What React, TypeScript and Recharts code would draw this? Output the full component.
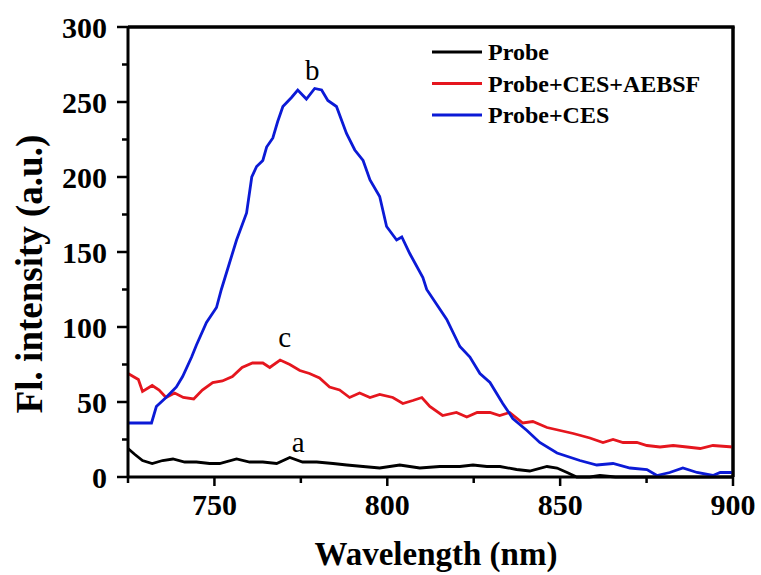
import React from 'react';
import { LineChart, Line, XAxis, YAxis, ReferenceDot } from 'recharts';

const FONT = "'Liberation Serif', 'Times New Roman', serif";

// Probe (a)
const probeWavelength = [725, 727, 729.2, 732, 735, 738, 741.4, 744.8, 748.6, 751.5, 756.4, 760.2, 764, 768, 771.8, 775.5, 779.6, 784.3, 788.3, 793, 797.8, 803.6, 809.4, 815.2, 821, 824.8, 828.8, 832.6, 837.4, 841.2, 846.2, 849.1, 852, 854.8, 858.6, 861.5, 866, 900];
const probeIntensity = [19, 15, 11, 9, 11, 12, 10, 10, 9, 9, 12, 10, 10, 9, 13, 10, 10, 9, 8, 7, 6, 8, 6, 7, 7, 8, 7, 7, 5, 4, 7, 6, 3, 0, 0, 1, 0, 0];

// Probe+CES+AEBSF (c)
const aebsfWavelength = [725, 728, 729.2, 732, 734, 736, 738.5, 741, 744, 746.5, 749.5, 752.3, 755.2, 758, 761, 764, 766, 769, 771.8, 774.7, 777.5, 780.4, 783.3, 786.2, 789.1, 792, 795, 797.8, 801.6, 804.5, 807.4, 810, 812.3, 816, 820, 823, 826, 829.7, 832.5, 835.4, 839.2, 842.1, 846.2, 850, 853.8, 858.6, 862.4, 865.3, 868.2, 872.2, 875.1, 878.9, 882.7, 886.7, 890.5, 894.2, 900];
const aebsfIntensity = [69, 65, 57, 61, 58, 53, 56, 53, 52, 58, 63, 64, 67, 73, 76, 76, 73, 78, 75, 71, 69, 66, 60, 58, 53, 56, 53, 55, 53, 49, 51, 53, 47, 41, 43, 40, 43, 43, 41, 43, 36, 37, 33, 31, 29, 26, 23, 25, 23, 23, 21, 20, 21, 20, 19, 21, 20];

// Probe+CES (b)
const cesWavelength = [725, 728, 731.8, 733.2, 736, 739, 740.8, 743.4, 744.8, 747.7, 750.6, 752, 754.4, 756.4, 759.3, 760.8, 762.2, 764, 765.1, 766.9, 768.3, 769.8, 772.3, 774.1, 776.6, 779, 781, 782.8, 785.3, 788.2, 790.6, 793, 795, 797.8, 799.8, 802.7, 804.2, 806.5, 810.3, 811.4, 817.2, 821, 823.9, 826.8, 829.7, 833.4, 836.3, 840.4, 844.1, 849.1, 855.7, 860.6, 865.3, 870.2, 875.1, 878, 881.7, 885.5, 889.6, 894.2, 896.3, 900];
const cesIntensity = [36, 36, 36, 47, 53, 60, 67, 80, 88, 103, 113, 125, 143, 158, 176, 200, 207, 211, 220, 226, 237, 247, 253, 258, 252, 259, 258, 251, 247, 229, 218, 211, 198, 187, 167, 158, 160, 149, 133, 125, 105, 87, 80, 69, 63, 49, 39, 31, 23, 16, 11, 8, 9, 6, 5, 1, 3, 6, 3, 1, 3, 3];

const seriesNames = ['Probe', 'Probe+CES+AEBSF', 'Probe+CES'];
const seriesColors = ['#000000', '#e5161e', '#0b1ad6'];
const curveLetters = ['a', 'c', 'b'];
const letterX = [774.2, 770.3, 778.3];
const letterY = [16.7, 86.7, 264.7];

const xTicks = [725, 750, 775, 800, 825, 850, 875, 900];
const yTicks = [0, 25, 50, 75, 100, 125, 150, 175, 200, 225, 250, 275, 300];

// layout constants
const CHART_W = 761;
const CHART_H = 575;
const MARGIN = { top: 27, right: 28, bottom: 0, left: 0 };
const Y_AXIS_W = 128;
const X_AXIS_H = 98;
const PLOT = {
  left: MARGIN.left + Y_AXIS_W,
  top: MARGIN.top,
  right: CHART_W - MARGIN.right,
  bottom: CHART_H - MARGIN.bottom - X_AXIS_H,
};

const toData = (xs: number[], ys: number[]) => xs.map((w, i) => ({ w, v: ys[i] }));
const probeData = toData(probeWavelength, probeIntensity);
const aebsfData = toData(aebsfWavelength, aebsfIntensity);
const cesData = toData(cesWavelength, cesIntensity);
const allData = [probeData, aebsfData, cesData];
const frameData = [
  { w: 725, v: 300 },
  { w: 900, v: 300 },
  { w: 900, v: 0 },
];

const XTick = (props: any) => {
  const { x, y, payload } = props;
  const major = payload.value % 50 === 0;
  return (
    <g>
      <line x1={x} x2={x} y1={y} y2={y + (major ? 9 : 6)} stroke="#000" strokeWidth={2.5} />
      {major && (
        <text x={x} y={y + 38} textAnchor="middle" fontFamily={FONT} fontWeight="bold" fontSize={30} fill="#000">
          {payload.value}
        </text>
      )}
    </g>
  );
};

const YTick = (props: any) => {
  const { x, y, payload } = props;
  const major = payload.value % 50 === 0;
  return (
    <g>
      <line x1={x} x2={x - (major ? 11 : 6)} y1={y} y2={y} stroke="#000" strokeWidth={2.5} />
      {major && (
        <text x={x - 21} y={y} textAnchor="end" dominantBaseline="central" fontFamily={FONT} fontWeight="bold" fontSize={30} fill="#000">
          {payload.value}
        </text>
      )}
    </g>
  );
};

const Overlay = () => (
  <svg width={CHART_W} height={CHART_H} style={{ position: 'absolute', left: 0, top: 0, display: 'block', pointerEvents: 'none' }}>
    <line x1={PLOT.left} y1={PLOT.top} x2={PLOT.right + 1.5} y2={PLOT.top} stroke="#000" strokeWidth={3} />
    <line x1={PLOT.right} y1={PLOT.top} x2={PLOT.right} y2={PLOT.bottom} stroke="#000" strokeWidth={3} />
    <text x={436} y={565} textAnchor="middle" fontFamily={FONT} fontWeight="bold" fontSize={33} fill="#000">
      Wavelength (nm)
    </text>
    <text x={42} y={274} transform="rotate(-90 42 274)" textAnchor="middle" fontFamily={FONT} fontWeight="bold" fontSize={37} fill="#000">
      Fl. intensity (a.u.)
    </text>
    {seriesNames.map((n, i) => {
      const ly = 52 + i * 31.5;
      return (
        <g key={n}>
          <line x1={432} x2={482} y1={ly} y2={ly} stroke={seriesColors[i]} strokeWidth={3} />
          <text x={488} y={ly + 8} fontFamily={FONT} fontWeight="bold" fontSize={24} fill="#000">
            {n}
          </text>
        </g>
      );
    })}
  </svg>
);

export default function App() {
  return (
    <div style={{ position: 'absolute', left: 0, top: 0, width: CHART_W, height: CHART_H, background: '#fff' }}>
      <LineChart width={CHART_W} height={CHART_H} margin={MARGIN}>
        <XAxis
          dataKey="w"
          type="number"
          domain={[725, 900]}
          ticks={xTicks}
          interval={0}
          tickSize={0}
          tickMargin={0}
          tickLine={false}
          tick={<XTick />}
          height={X_AXIS_H}
          axisLine={{ stroke: '#000', strokeWidth: 3 }}
        />
        <YAxis
          type="number"
          domain={[0, 300]}
          ticks={yTicks}
          interval={0}
          tickSize={0}
          tickMargin={0}
          tickLine={false}
          tick={<YTick />}
          width={Y_AXIS_W}
          axisLine={{ stroke: '#000', strokeWidth: 3 }}
        />
        <Line data={frameData} dataKey="v" stroke="#000" strokeWidth={3} dot={false} isAnimationActive={false} />
        {allData.map((d, i) => (
          <Line
            key={seriesNames[i]}
            data={d}
            dataKey="v"
            name={seriesNames[i]}
            type="linear"
            stroke={seriesColors[i]}
            strokeWidth={2.8}
            dot={false}
            activeDot={false}
            isAnimationActive={false}
          />
        ))}
        {curveLetters.map((l, i) => (
          <ReferenceDot
            key={l}
            x={letterX[i]}
            y={letterY[i]}
            r={0}
            shape={(p: any) => (
              <text x={p.cx} y={p.cy} textAnchor="middle" fontFamily={FONT} fontSize={29} fill="#000">
                {l}
              </text>
            )}
          />
        ))}
      </LineChart>
      <Overlay />
    </div>
  );
}
